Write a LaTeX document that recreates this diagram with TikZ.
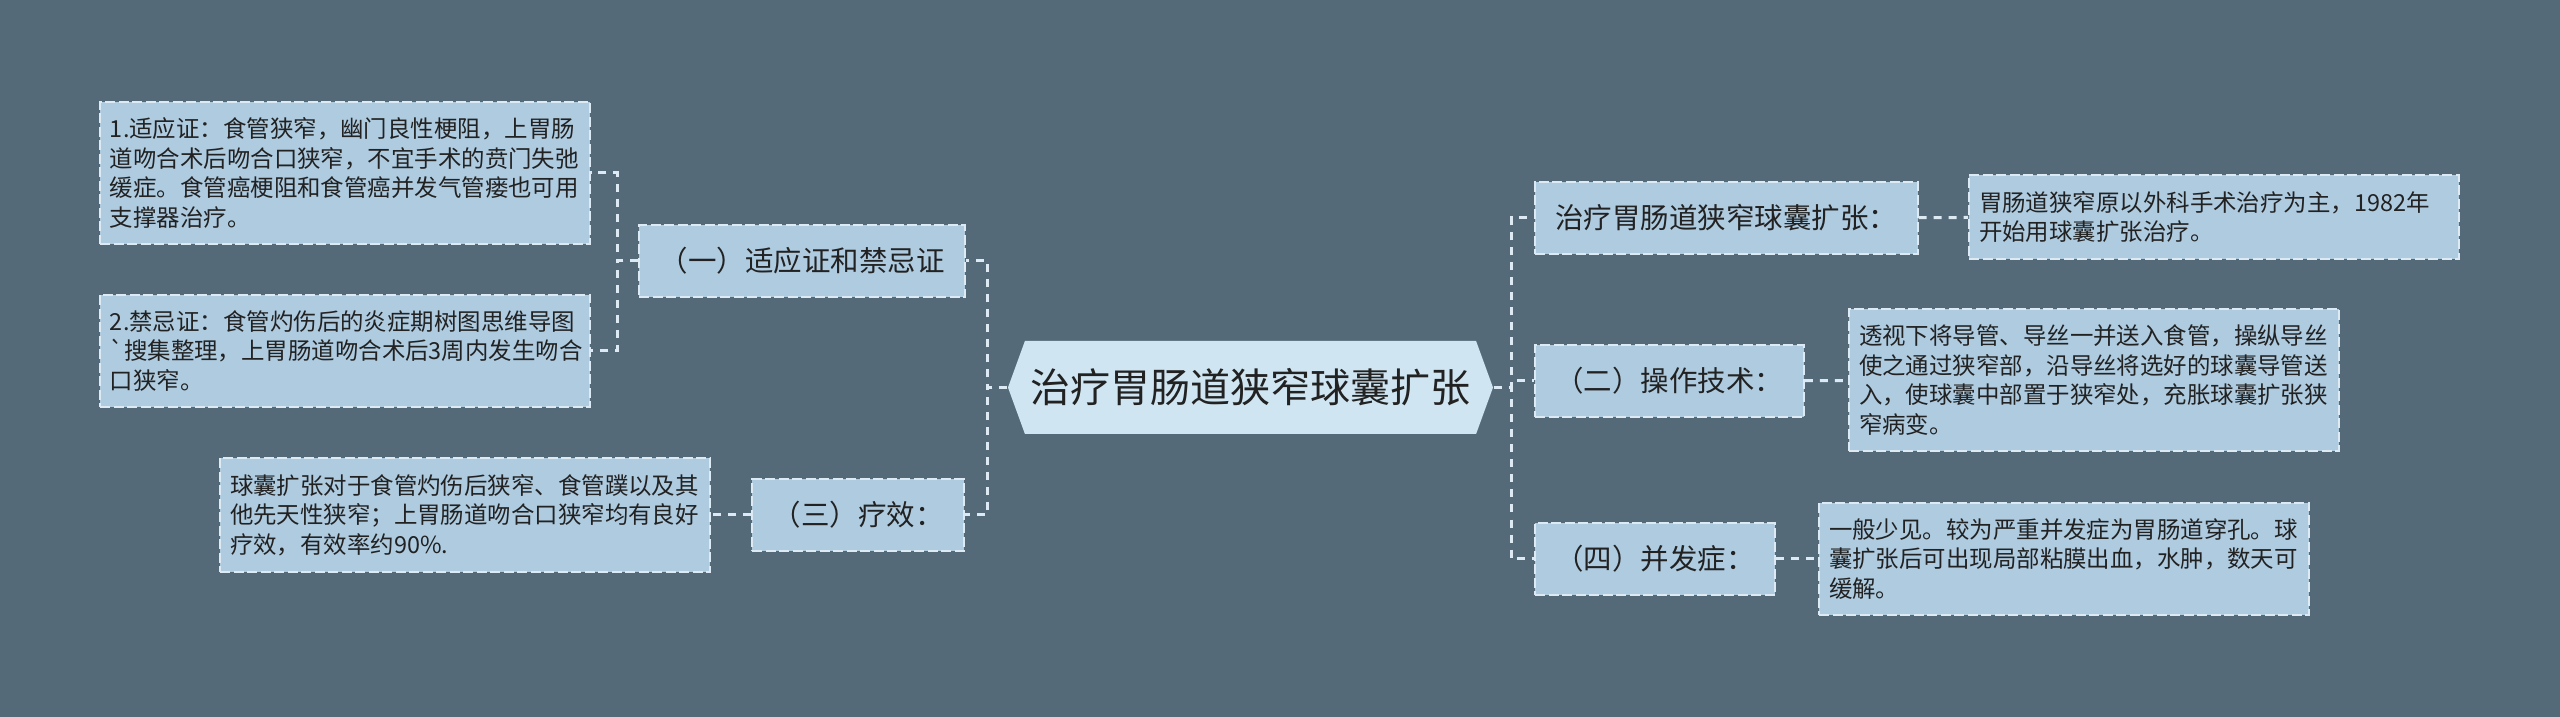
\documentclass[tikz,border=0pt]{standalone}
\usepackage{fontspec}
\setmainfont{Noto Sans CJK SC}
\usepackage{xcolor}
\usepackage{tikz}
\usetikzlibrary{calc, positioning, shapes.symbols}
\definecolor{mapbg}{HTML}{546A79}
\definecolor{boxfill}{HTML}{AECBE0}
\definecolor{rootfill}{HTML}{CFE5F1}
\definecolor{linkcol}{HTML}{DDEAF3}
\definecolor{ink}{HTML}{222222}
\tikzset{
    root/.style={signal, signal to=west and east, signal pointer angle=140, fill=rootfill, text=ink, minimum width=4.85cm, minimum height=0.93cm, inner sep=0.05cm, font=\fontsize{11.4pt}{13pt}\selectfont},
    branch/.style={rectangle, draw=linkcol, line width=0.02cm, dash pattern=on 0.1cm off 0.035cm, fill=boxfill, text=ink, minimum height=0.72cm, inner xsep=0.205cm, font=\fontsize{8.1pt}{10pt}\selectfont},
    detail/.style={rectangle, draw=linkcol, line width=0.02cm, dash pattern=on 0.1cm off 0.035cm, fill=boxfill, text=ink, text width=4.7cm, align=left, inner xsep=0.1cm, inner ysep=0.16cm, font=\fontsize{6.67pt}{8.4pt}\selectfont},
    link/.style={draw=linkcol, line width=0.03cm, dash pattern=on 0.08cm off 0.07cm}
}

\begin{document}
\begin{tikzpicture}
        % Canvas
        \fill[mapbg] (0,0) rectangle (25.6,-7.17);
        \useasboundingbox (0,0) rectangle (25.6,-7.17);

        % Nodes
        \node[root] (Root) at (12.505,-3.875) {治疗胃肠道狭窄球囊扩张};

        \node[branch, anchor=east] (Indic) at (9.66,-2.61) {（一）适应证和禁忌证};
        \node[branch, anchor=east] (Effect) at (9.65,-5.15) {（三）疗效：};
        \node[branch, anchor=west] (Method) at (15.34,-2.18) {治疗胃肠道狭窄球囊扩张：};
        \node[branch, anchor=west] (Tech) at (15.34,-3.81) {（二）操作技术：};
        \node[branch, anchor=west] (Compl) at (15.34,-5.59) {（四）并发症：};

        % Details
        \node[detail, anchor=east] (IndicA) at (5.91,-1.73) {1.适应证：食管狭窄，幽门良性梗阻，上胃肠\\道吻合术后吻合口狭窄，不宜手术的贲门失弛\\缓症。食管癌梗阻和食管癌并发气管瘘也可用\\支撑器治疗。};
        \node[detail, anchor=east] (IndicB) at (5.91,-3.51) {2.禁忌证：食管灼伤后的炎症期树图思维导图\\\textasciigrave 搜集整理，上胃肠道吻合术后3周内发生吻合\\口狭窄。};
        \node[detail, anchor=east] (EffectText) at (7.11,-5.15) {球囊扩张对于食管灼伤后狭窄、食管蹼以及其\\他先天性狭窄；上胃肠道吻合口狭窄均有良好\\疗效，有效率约90\%.};
        \node[detail, anchor=west] (MethodText) at (19.68,-2.17) {胃肠道狭窄原以外科手术治疗为主，1982年\\开始用球囊扩张治疗。};
        \node[detail, anchor=west] (TechText) at (18.48,-3.80) {透视下将导管、导丝一并送入食管，操纵导丝\\使之通过狭窄部，沿导丝将选好的球囊导管送\\入，使球囊中部置于狭窄处，充胀球囊扩张狭\\窄病变。};
        \node[detail, anchor=west] (ComplText) at (18.18,-5.59) {一般少见。较为严重并发症为胃肠道穿孔。球\\囊扩张后可出现局部粘膜出血，水肿，数天可\\缓解。};

        % Edges
        \draw[link] (Root.west) -- ++(-0.2,0) |- (Indic.east);
        \draw[link] (Root.west) -- ++(-0.2,0) |- (Effect.east);
        \draw[link] (Root.east) -- ++(0.18,0) |- (Method.west);
        \draw[link] (Root.east) -- ++(0.18,0) |- (Tech.west);
        \draw[link] (Root.east) -- ++(0.18,0) |- (Compl.west);

        \draw[link] (Indic.west) -- ++(-0.21,0) |- (IndicA.east);
        \draw[link] (Indic.west) -- ++(-0.21,0) |- (IndicB.east);
        \draw[link] (Effect) -- (EffectText);
        \draw[link] (Method) -- (MethodText);
        \draw[link] (Tech) -- (TechText);
        \draw[link] (Compl) -- (ComplText);

    \end{tikzpicture}
\end{document}
